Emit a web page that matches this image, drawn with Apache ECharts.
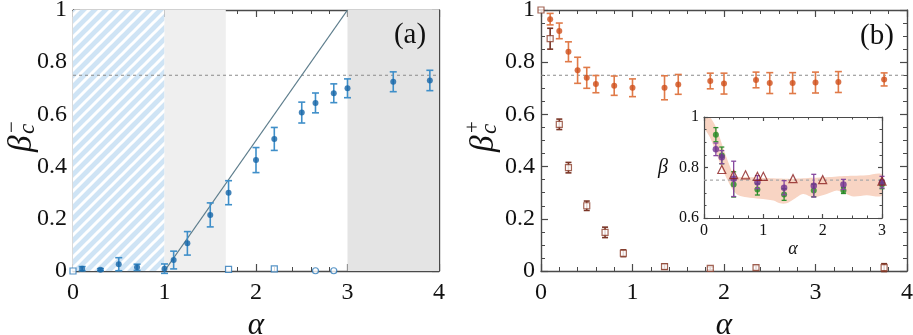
<!DOCTYPE html>
<html><head><meta charset="utf-8">
<script src="https://cdn.jsdelivr.net/npm/echarts@6/dist/echarts.min.js"></script>
<style>html,body{margin:0;padding:0;background:#fff}#c{width:913px;height:335px}</style>
</head><body><div id="c"></div>
<script>
// ---------- Panel (a) data ----------
const aX   = [0.1, 0.3, 0.5, 0.7, 1.0, 1.1, 1.25, 1.5, 1.7, 2.0, 2.2, 2.5, 2.65, 2.85, 3.0, 3.5, 3.9];
const aY   = [0.009, 0.005, 0.026, 0.014, 0.009, 0.042, 0.106, 0.215, 0.30, 0.425, 0.506, 0.607, 0.644, 0.681, 0.70, 0.725, 0.73];
const aErr = [0.008, 0.004, 0.025, 0.012, 0.018, 0.034, 0.045, 0.046, 0.046, 0.048, 0.044, 0.040, 0.038, 0.036, 0.036, 0.038, 0.039];
const aSqX = [0, 1.7, 2.2];
const aSqY = [0, 0.006, 0.008];
const aCirX = [2.65, 2.85];
const aCirY = [0.001, 0.001];
const aLineX = [1, 3];
const aLineY = [0, 1];
const refX = [0, 4];
const refY = [0.75, 0.75];
const regions = [[0, 1], [1, 1.67], [3, 4]];
// ---------- Panel (b) data ----------
const bX   = [0.1, 0.2, 0.3, 0.4, 0.5, 0.6, 0.8, 1.0, 1.35, 1.5, 1.85, 2.0, 2.35, 2.5, 2.75, 3.0, 3.25, 3.75];
const bY   = [0.965, 0.92, 0.84, 0.769, 0.74, 0.716, 0.71, 0.702, 0.702, 0.715, 0.728, 0.718, 0.732, 0.72, 0.72, 0.722, 0.724, 0.734];
const bErr = [0.022, 0.030, 0.038, 0.050, 0.040, 0.033, 0.037, 0.034, 0.046, 0.038, 0.030, 0.040, 0.030, 0.040, 0.040, 0.040, 0.040, 0.025];
const bSqX   = [0, 0.1, 0.2, 0.3, 0.5, 0.7, 0.9, 1.35, 1.85, 2.35, 3.75];
const bSqY   = [1.0, 0.89, 0.562, 0.396, 0.25, 0.148, 0.068, 0.017, 0.010, 0.013, 0.013];
const bSqErr = [0, 0.04, 0.02, 0.02, 0.018, 0.02, 0.013, 0.01, 0.006, 0.008, 0.015];
// ---------- Inset data ----------
const iX      = [0.2, 0.3, 0.5, 0.9, 1.35, 1.85, 2.35, 3.0];
const iGreen  = [0.93, 0.848, 0.733, 0.713, 0.693, 0.709, 0.709, 0.733];
const iGErr   = [0.028, 0.033, 0.05, 0.022, 0.023, 0.025, 0.012, 0.017];
const iPurple = [0.872, 0.841, 0.755, 0.742, 0.72, 0.728, 0.733, 0.742];
const iPErr   = [0.025, 0.026, 0.07, 0.026, 0.028, 0.045, 0.02, 0.023];
const iTriX   = [0.3, 0.5, 0.7, 0.9, 1.0, 1.5, 2.0, 3.0];
const iTriY   = [0.792, 0.772, 0.771, 0.765, 0.765, 0.756, 0.752, 0.746];
const bandX     = [0, 0.1, 0.185, 0.27, 0.354, 0.44, 0.49, 0.58, 0.72, 0.94, 1.17, 1.28, 1.39, 1.5, 1.67, 1.84, 2.07, 2.24, 2.4, 2.52, 2.74, 3.0];
const bandUpper = [1.02, 1.0, 0.968, 0.916, 0.856, 0.803, 0.777, 0.762, 0.762, 0.759, 0.757, 0.756, 0.755, 0.755, 0.757, 0.759, 0.761, 0.764, 0.766, 0.767, 0.769, 0.772];
const bandLower = [0.96, 0.92, 0.87, 0.816, 0.77, 0.73, 0.709, 0.69, 0.682, 0.676, 0.669, 0.658, 0.658, 0.672, 0.695, 0.682, 0.695, 0.709, 0.695, 0.685, 0.69, 0.689];
const irefX = [0, 3];
const irefY = [0.75, 0.75];

const FONT = 'Liberation Serif';
const AXC = '#4a4a4a';

// hatch pattern
const T = 11;
const pc = document.createElement('canvas'); pc.width = T; pc.height = T;
const g = pc.getContext('2d');
g.fillStyle = '#cfe4f5'; g.fillRect(0, 0, T, T);
g.strokeStyle = '#ffffff'; g.lineWidth = 3.0;
g.beginPath();
g.moveTo(-2, T + 2); g.lineTo(T + 2, -2);
g.moveTo(-2, 2); g.lineTo(2, -2);
g.moveTo(T - 2, T + 2); g.lineTo(T + 2, T - 2);
g.stroke();
const hatch = { image: pc, repeat: 'repeat' };

function zip(xs, ys) { return xs.map((x, i) => [x, ys[i]]); }
function errData(xs, ys, es) { return xs.map((x, i) => [x, ys[i] - es[i], ys[i] + es[i]]); }

function errSeries(xi, yi, data, color, cap, lw) {
  return {
    type: 'custom', xAxisIndex: xi, yAxisIndex: yi, data: data, z: 3, clip: false, silent: true,
    renderItem: function (params, api) {
      const x = api.value(0), lo = api.value(1), hi = api.value(2);
      const p1 = api.coord([x, lo]), p2 = api.coord([x, hi]);
      const st = { stroke: color, lineWidth: lw || 1.6 };
      return { type: 'group', children: [
        { type: 'line', shape: { x1: p1[0], y1: p1[1], x2: p2[0], y2: p2[1] }, style: st },
        { type: 'line', shape: { x1: p1[0] - cap, y1: p1[1], x2: p1[0] + cap, y2: p1[1] }, style: st },
        { type: 'line', shape: { x1: p2[0] - cap, y1: p2[1], x2: p2[0] + cap, y2: p2[1] }, style: st }
      ]};
    }
  };
}

function xAxis(gi, min, max, minor, big, show) {
  return {
    type: 'value', gridIndex: gi, min: min, max: max, interval: 1,
    position: show ? 'bottom' : 'top',
    axisLine: { show: true, onZero: false, lineStyle: { color: AXC, width: big ? 1.4 : 1.2 } },
    axisTick: { show: true, inside: true, length: big ? 7 : 4, lineStyle: { color: AXC, width: 1.2 } },
    minorTick: { show: true, splitNumber: minor, length: big ? 4 : 2.5, lineStyle: { color: AXC, width: 1 } },
    splitLine: { show: false }, minorSplitLine: { show: false },
    axisLabel: { show: show, fontFamily: FONT, fontSize: big ? 24 : 16, color: '#111', margin: big ? 10 : 5 },
    name: show ? 'α' : '', nameLocation: 'middle', nameGap: big ? 25 : 20,
    nameTextStyle: { fontFamily: FONT, fontStyle: 'italic', fontSize: big ? 31 : 18, color: '#111' }
  };
}
function yAxis(gi, min, max, show, big, name) {
  return {
    type: 'value', gridIndex: gi, min: min, max: max, interval: 0.2,
    position: show ? 'left' : 'right',
    axisLine: { show: true, onZero: false, lineStyle: { color: AXC, width: big ? 1.4 : 1.2 } },
    axisTick: { show: true, inside: true, length: big ? 7 : 4, lineStyle: { color: AXC, width: 1.2 } },
    minorTick: { show: true, splitNumber: 4, length: big ? 4 : 2.5, lineStyle: { color: AXC, width: 1 } },
    splitLine: { show: false }, minorSplitLine: { show: false },
    axisLabel: { show: show, fontFamily: FONT, fontSize: big ? 24 : 16, color: '#111', margin: big ? 6 : 5 },
    name: name || '', nameLocation: 'middle', nameRotate: 0, nameGap: 36,
    nameTextStyle: { fontFamily: FONT, fontStyle: 'italic', fontSize: 20, color: '#111' }
  };
}

const chart = echarts.init(document.getElementById('c'), null, { renderer: 'canvas' });

const regionColors = [hatch, '#efefef', '#e4e4e4'];
const LBL = '"Liberation Serif"';

const option = {
  animation: false,
  backgroundColor: '#fff',
  grid: [
    { left: 73, top: 10, width: 366, height: 261, containLabel: false, outerBoundsMode: 'none' },
    { left: 541, top: 10, width: 366, height: 261, containLabel: false, outerBoundsMode: 'none' },
    { left: 704, top: 117, width: 178, height: 101, containLabel: false, outerBoundsMode: 'none',
      show: true, backgroundColor: '#fff', borderWidth: 0, z: 5 }
  ],
  xAxis: [
    xAxis(0, 0, 4, 5, true, true), xAxis(0, 0, 4, 5, true, false),
    xAxis(1, 0, 4, 5, true, true), xAxis(1, 0, 4, 5, true, false),
    Object.assign(xAxis(2, 0, 3, 4, false, true), { z: 6 }), Object.assign(xAxis(2, 0, 3, 4, false, false), { z: 6 })
  ],
  yAxis: [
    yAxis(0, 0, 1, true, true), yAxis(0, 0, 1, false, true),
    yAxis(1, 0, 1, true, true), yAxis(1, 0, 1, false, true),
    Object.assign(yAxis(2, 0.6, 1, true, false, 'β'), { z: 6 }), Object.assign(yAxis(2, 0.6, 1, false, false), { z: 6 })
  ],
  graphic: [
    { type: 'group', x: 22, y: 152, rotation: Math.PI / 2, children: [
      { type: 'text', x: 0, y: 0, style: { text: 'β', font: 'italic 33px ' + LBL, fill: '#111', textAlign: 'left', textVerticalAlign: 'middle' } },
      { type: 'text', x: 18, y: 6, style: { text: 'c', font: 'italic 23px ' + LBL, fill: '#111', textAlign: 'left', textVerticalAlign: 'middle' } },
      { type: 'text', x: 19, y: -10, style: { text: '−', font: '21px ' + LBL, fill: '#111', textAlign: 'left', textVerticalAlign: 'middle' } }
    ]},
    { type: 'group', x: 484, y: 152, rotation: Math.PI / 2, children: [
      { type: 'text', x: 0, y: 0, style: { text: 'β', font: 'italic 33px ' + LBL, fill: '#111', textAlign: 'left', textVerticalAlign: 'middle' } },
      { type: 'text', x: 18, y: 6, style: { text: 'c', font: 'italic 23px ' + LBL, fill: '#111', textAlign: 'left', textVerticalAlign: 'middle' } },
      { type: 'text', x: 19, y: -11, style: { text: '+', font: '21px ' + LBL, fill: '#111', textAlign: 'left', textVerticalAlign: 'middle' } }
    ]},
    { type: 'text', x: 410, y: 35, z: 10, style: { text: '(a)', font: '29px ' + LBL, fill: '#111', textAlign: 'center', textVerticalAlign: 'middle' } },
    { type: 'text', x: 877, y: 36, z: 10, style: { text: '(b)', font: '29px ' + LBL, fill: '#111', textAlign: 'center', textVerticalAlign: 'middle' } }
  ],
  series: [
    { type: 'line', xAxisIndex: 0, yAxisIndex: 0, data: [], z: 0, silent: true,
      markArea: { silent: true, data: regions.map((r, i) => [
        { xAxis: r[0], itemStyle: { color: regionColors[i] } }, { xAxis: r[1] }]) } },
    { type: 'line', xAxisIndex: 0, yAxisIndex: 0, data: zip(refX, refY), symbol: 'none', z: 2,
      lineStyle: { color: '#8a8a8a', width: 1, type: [3, 3] } },
    { type: 'line', xAxisIndex: 0, yAxisIndex: 0, data: zip(aLineX, aLineY), symbol: 'none', z: 2,
      lineStyle: { color: '#5d7d8c', width: 1.3 } },
    errSeries(0, 0, errData(aX, aY, aErr), '#3f8fc9', 3.5),
    { type: 'scatter', xAxisIndex: 0, yAxisIndex: 0, data: zip(aX, aY), symbol: 'circle', symbolSize: 6, z: 4,
      itemStyle: { color: '#1565a7' } },
    { type: 'scatter', xAxisIndex: 0, yAxisIndex: 0, data: zip(aSqX, aSqY), symbol: 'rect', symbolSize: 6, z: 4,
      itemStyle: { color: '#fff', borderColor: '#2a78b8', borderWidth: 1.2 } },
    { type: 'scatter', xAxisIndex: 0, yAxisIndex: 0, data: zip(aCirX, aCirY), symbol: 'circle', symbolSize: 6, z: 4,
      itemStyle: { color: '#fff', borderColor: '#2a78b8', borderWidth: 1.2 } },
    { type: 'line', xAxisIndex: 2, yAxisIndex: 2, data: zip(refX, refY), symbol: 'none', z: 2,
      lineStyle: { color: '#8a8a8a', width: 1, type: [3, 3] } },
    errSeries(2, 2, errData(bX, bY, bErr), '#e07a48', 3.5),
    { type: 'scatter', xAxisIndex: 2, yAxisIndex: 2, data: zip(bX, bY), symbol: 'circle', symbolSize: 6, z: 4,
      itemStyle: { color: '#cf4f1a' } },
    errSeries(2, 2, errData(bSqX, bSqY, bSqErr), '#7a3526', 3),
    { type: 'scatter', xAxisIndex: 2, yAxisIndex: 2, data: zip(bSqX, bSqY), symbol: 'rect', symbolSize: 6, z: 4,
      itemStyle: { color: '#fff', borderColor: '#8c3f2c', borderWidth: 1.2 } },
    { type: 'custom', xAxisIndex: 4, yAxisIndex: 4, data: [0], z: 6, silent: true, clip: true,
      renderItem: function (params, api) {
        const pts = [];
        for (let i = 0; i < bandX.length; i++) pts.push(api.coord([bandX[i], bandUpper[i]]));
        for (let i = bandX.length - 1; i >= 0; i--) pts.push(api.coord([bandX[i], bandLower[i]]));
        return { type: 'polygon', shape: { points: pts, smooth: 0.3 }, style: { fill: '#f8d4c3' } };
      } },
    { type: 'line', xAxisIndex: 4, yAxisIndex: 4, data: zip(irefX, irefY), symbol: 'none', z: 7,
      lineStyle: { color: '#a8a8a8', width: 1.2, type: [3, 3] } },
    Object.assign(errSeries(4, 4, errData(iX, iGreen, iGErr), '#2f8f2f', 2.5, 1.3), { z: 8 }),
    { type: 'scatter', xAxisIndex: 4, yAxisIndex: 4, data: zip(iX, iGreen), symbol: 'circle', symbolSize: 6, z: 8,
      itemStyle: { color: '#238a23' } },
    Object.assign(errSeries(4, 4, errData(iX, iPurple, iPErr), '#86479f', 2.5, 1.3), { z: 9 }),
    { type: 'scatter', xAxisIndex: 4, yAxisIndex: 4, data: zip(iX, iPurple), symbol: 'circle', symbolSize: 6.5, z: 9,
      itemStyle: { color: '#6f3190' } },
    { type: 'scatter', xAxisIndex: 4, yAxisIndex: 4, data: zip(iTriX, iTriY), symbol: 'triangle', symbolSize: 8, z: 9,
      itemStyle: { color: 'rgba(255,255,255,0)', borderColor: '#8b1e1e', borderWidth: 1.2 } }
  ]
};
chart.setOption(option);
</script>
</body></html>
